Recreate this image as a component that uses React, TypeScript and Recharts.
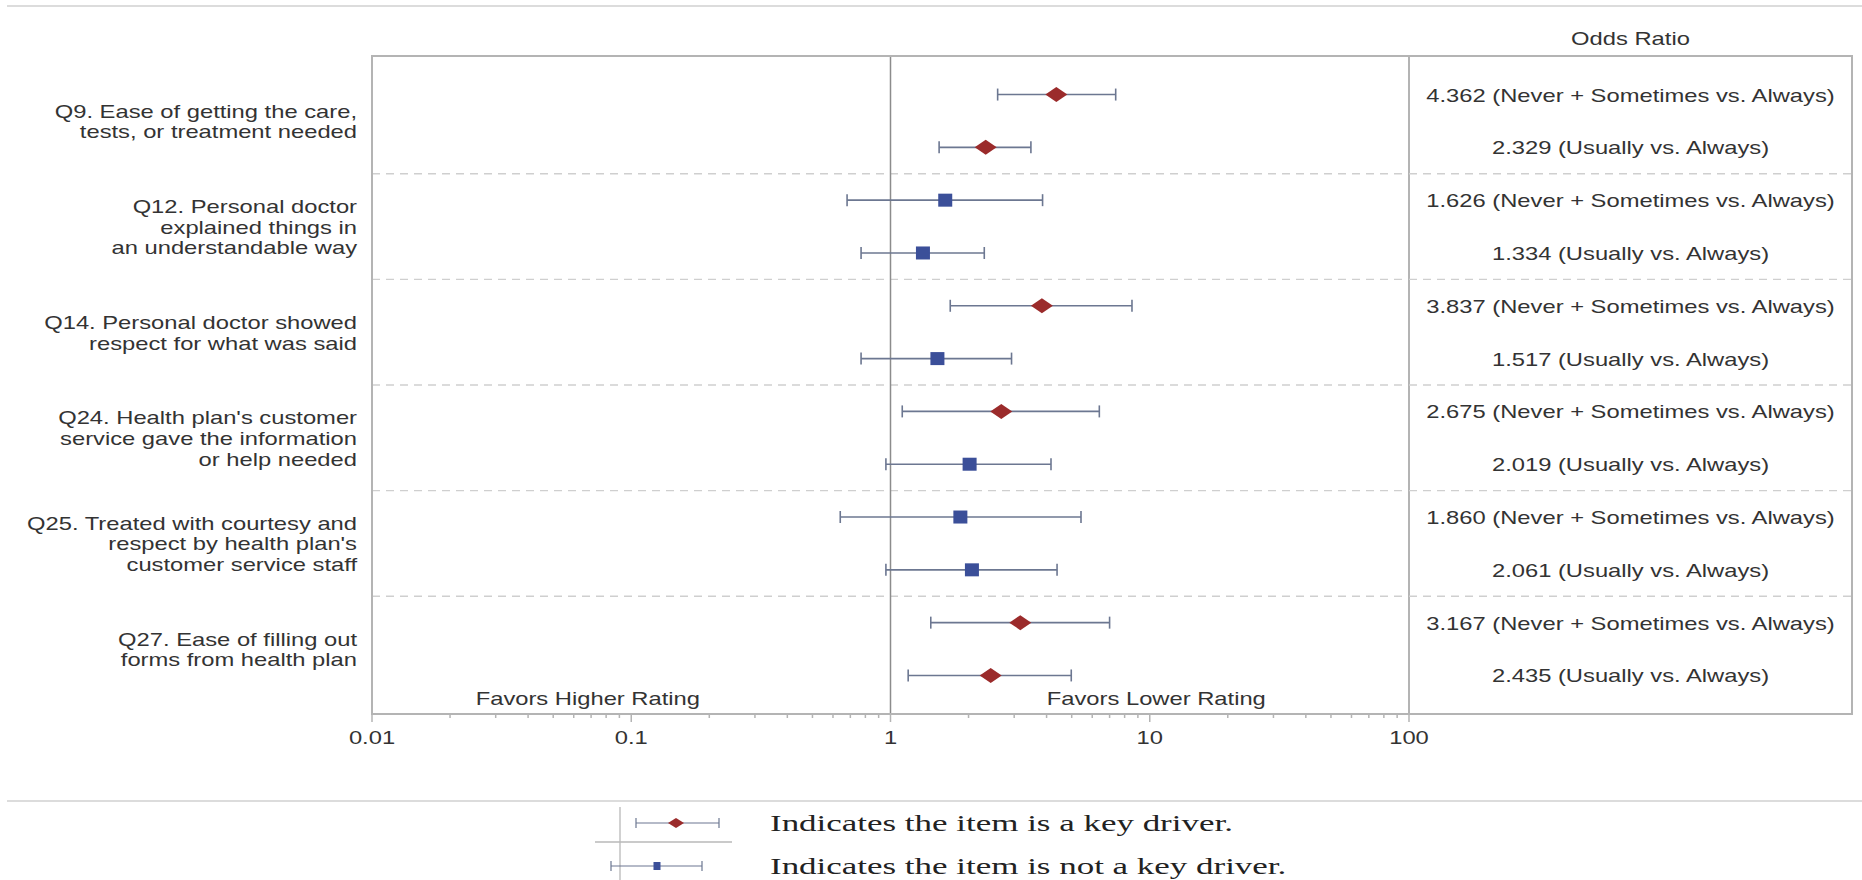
import React from "react";
import {
  ComposedChart,
  Scatter,
  ErrorBar,
  XAxis,
  YAxis,
  ReferenceLine,
  ReferenceDot,
  Legend,
} from "recharts";

// survey items, two comparisons each
const questions = [
  ["Q9. Ease of getting the care,", "tests, or treatment needed"],
  ["Q12. Personal doctor", "explained things in", "an understandable way"],
  ["Q14. Personal doctor showed", "respect for what was said"],
  ["Q24. Health plan's customer", "service gave the information", "or help needed"],
  ["Q25. Treated with courtesy and", "respect by health plan's", "customer service staff"],
  ["Q27. Ease of filling out", "forms from health plan"],
];
const comparisons = ["Never + Sometimes vs. Always", "Usually vs. Always"];

const oddsRatios = [4.362, 2.329, 1.626, 1.334, 3.837, 1.517, 2.675, 2.019, 1.86, 2.061, 3.167, 2.435];
const lowerCI = [2.59, 1.54, 0.68, 0.77, 1.7, 0.77, 1.11, 0.96, 0.64, 0.96, 1.43, 1.17];
const upperCI = [7.39, 3.48, 3.86, 2.3, 8.54, 2.93, 6.39, 4.16, 5.43, 4.39, 7.0, 4.98];
const keyDriver = [true, true, false, false, true, false, true, false, false, false, true, true];

const xTicks = [0.01, 0.1, 1, 10, 100];
const legendLabels = ["Indicates the item is a key driver.", "Indicates the item is not a key driver."];
const annotations = [
  { text: "Favors Higher Rating", x: 0.068, row: 11.43 },
  { text: "Favors Lower Rating", x: 10.6, row: 11.43 },
];

const rows = oddsRatios.map((or, i) => ({
  row: i,
  or,
  err: [or - lowerCI[i], upperCI[i] - or],
  key: keyDriver[i],
  text: `${or.toFixed(3)} (${comparisons[i % 2]})`,
}));
const keyRows = rows.filter((r) => r.key);
const otherRows = rows.filter((r) => !r.key);

const minorTicks = xTicks
  .slice(0, -1)
  .flatMap((d) => [2, 3, 4, 5, 6, 7, 8, 9].map((k) => parseFloat((d * k).toPrecision(3))));
const groupTicks = questions.map((_, g) => g * 2 + 0.5);
const boundaryTicks = questions.slice(1).map((_, g) => g * 2 + 1.5);
const rowTicks = [...rows.map((r) => r.row), ...boundaryTicks];

const W = 1862;
const H = 880;
const MARGIN = { top: 56, right: 10, bottom: 126, left: 0 };
const LEFT_W = 372;
const PANEL_W = 443;
const XAXIS_H = 40;
const PAD = 0.73;

const RED = "#9b2b2b";
const BLUE = "#3b4f99";
const BAR = "#6c7791";
const FRAME = "#b4b4b4";
const TEXT = "#333";
const SANS = "'Liberation Sans', Arial, sans-serif";
const SERIF = "'Liberation Serif', 'Times New Roman', serif";

function StretchText({ x, y, anchor = "start", size = 19, sx = 1.25, family = SANS, fill = TEXT, children }: any) {
  return (
    <text
      transform={`translate(${x},${y}) scale(${sx},1)`}
      textAnchor={anchor}
      fontSize={size}
      fontFamily={family}
      fill={fill}
    >
      {children}
    </text>
  );
}

const Diamond = ({ cx, cy }: any) => (
  <polygon points={`${cx - 11},${cy} ${cx},${cy - 7.5} ${cx + 11},${cy} ${cx},${cy + 7.5}`} fill={RED} />
);
const Square = ({ cx, cy }: any) => <rect x={cx - 7} y={cy - 6.5} width={14} height={13} fill={BLUE} />;

const XTick = ({ x, y, payload }: any) => {
  const v = payload.value;
  const major = xTicks.includes(v);
  return (
    <g>
      <line x1={x} x2={x} y1={y} y2={y + (major ? 8 : 4)} stroke={FRAME} strokeWidth={1.5} />
      {major && (
        <StretchText x={x} y={y + 30} anchor="middle">
          {String(v)}
        </StretchText>
      )}
    </g>
  );
};

const LeftTick = ({ x, y, payload }: any) => {
  const lines = questions[Math.round((payload.value - 0.5) / 2)];
  const lh = 20.7;
  const top = y - ((lines.length - 1) * lh) / 2;
  return (
    <g>
      {lines.map((l, i) => (
        <StretchText key={i} x={x - 15} y={top + i * lh + 7} anchor="end">
          {l}
        </StretchText>
      ))}
    </g>
  );
};

const RightTick = ({ x, y, payload }: any) => {
  const v = payload.value;
  if (!Number.isInteger(v)) {
    return <line x1={x} x2={x + PANEL_W} y1={y} y2={y} stroke="#cfcfcf" strokeWidth={1.3} strokeDasharray="8 6" />;
  }
  return (
    <StretchText x={x + PANEL_W / 2} y={y + 7} anchor="middle">
      {rows[v].text}
    </StretchText>
  );
};

const LegendContent = ({ payload }: any) => {
  const items = (payload || []).filter((p: any) => legendLabels.includes(p.value));
  const marks = [
    { y: 33, lo: 636, hi: 719, mid: 676 },
    { y: 76, lo: 611, hi: 702, mid: 657 },
  ];
  return (
    <svg width={W} height={90} style={{ display: "block" }}>
      <line x1={7} x2={W} y1={11} y2={11} stroke="#dcdcdc" strokeWidth={2} />
      <line x1={620} x2={620} y1={17} y2={90} stroke="#b8b8b8" strokeWidth={1.3} />
      <line x1={595} x2={732} y1={52} y2={52} stroke="#b8b8b8" strokeWidth={1.3} />
      {items.map((it: any, i: number) => {
        const m = marks[i];
        return (
          <g key={it.value}>
            <line x1={m.lo} x2={m.hi} y1={m.y} y2={m.y} stroke={BAR} strokeWidth={1.2} />
            <line x1={m.lo} x2={m.lo} y1={m.y - 5} y2={m.y + 5} stroke={BAR} strokeWidth={1.2} />
            <line x1={m.hi} x2={m.hi} y1={m.y - 5} y2={m.y + 5} stroke={BAR} strokeWidth={1.2} />
            {i === 0 ? (
              <polygon
                points={`${m.mid - 8},${m.y} ${m.mid},${m.y - 5} ${m.mid + 8},${m.y} ${m.mid},${m.y + 5}`}
                fill={it.color}
              />
            ) : (
              <rect x={m.mid - 3.5} y={m.y - 4} width={7} height={8} fill={it.color} />
            )}
            <StretchText x={770} y={m.y + 8} size={23} sx={1.52} family={SERIF} fill="#222">
              {it.value}
            </StretchText>
          </g>
        );
      })}
    </svg>
  );
};

const favorsLabel = (text: string) => (p: any) => (
  <StretchText x={p.viewBox.x} y={p.viewBox.y + 7} anchor="middle">
    {text}
  </StretchText>
);

export default function App() {
  const plotLeft = MARGIN.left + LEFT_W;
  const plotTop = MARGIN.top;
  const plotBottom = H - MARGIN.bottom - XAXIS_H;
  const frameRight = W - MARGIN.right;
  return (
    <div style={{ position: "absolute", left: 0, top: 0, width: W, height: H, background: "#fff" }}>
      <ComposedChart width={W} height={H} margin={MARGIN}>
        <XAxis
          dataKey="or"
          type="number"
          scale="log"
          domain={[0.01, 100]}
          allowDataOverflow
          ticks={[...xTicks, ...minorTicks]}
          interval={0}
          height={XAXIS_H}
          tickSize={0}
          tickMargin={0}
          tickLine={false}
          axisLine={{ stroke: FRAME, strokeWidth: 2 }}
          tick={<XTick />}
        />
        <YAxis
          yAxisId="left"
          dataKey="row"
          type="number"
          domain={[-PAD, rows.length - 1 + PAD]}
          reversed
          allowDataOverflow
          ticks={groupTicks}
          interval={0}
          width={LEFT_W}
          tickSize={0}
          tickMargin={0}
          tickLine={false}
          axisLine={{ stroke: FRAME, strokeWidth: 2 }}
          tick={<LeftTick />}
        />
        <YAxis
          yAxisId="right"
          orientation="right"
          dataKey="row"
          type="number"
          domain={[-PAD, rows.length - 1 + PAD]}
          reversed
          allowDataOverflow
          ticks={rowTicks}
          interval={0}
          width={PANEL_W}
          tickSize={0}
          tickMargin={0}
          tickLine={false}
          axisLine={{ stroke: FRAME, strokeWidth: 2 }}
          tick={<RightTick />}
          label={(p: any) => (
            <StretchText x={p.viewBox.x + p.viewBox.width / 2} y={p.viewBox.y - 11} anchor="middle">
              Odds Ratio
            </StretchText>
          )}
        />
        {boundaryTicks.map((b) => (
          <ReferenceLine key={b} yAxisId="left" y={b} stroke="#cfcfcf" strokeWidth={1.3} strokeDasharray="8 6" />
        ))}
        <ReferenceLine yAxisId="left" x={1} stroke="#8c8c8c" strokeWidth={1.5} />
        {annotations.map((a) => (
          <ReferenceDot
            key={a.text}
            yAxisId="left"
            x={a.x}
            y={a.row}
            r={0}
            fill="none"
            stroke="none"
            label={favorsLabel(a.text)}
          />
        ))}
        <Scatter
          yAxisId="left"
          name={legendLabels[0]}
          data={keyRows}
          fill={RED}
          shape={<Diamond />}
          isAnimationActive={false}
        >
          <ErrorBar dataKey="err" direction="x" width={6} stroke={BAR} strokeWidth={1.6} />
        </Scatter>
        <Scatter
          yAxisId="left"
          name={legendLabels[1]}
          data={otherRows}
          fill={BLUE}
          shape={<Square />}
          isAnimationActive={false}
        >
          <ErrorBar dataKey="err" direction="x" width={6} stroke={BAR} strokeWidth={1.6} />
        </Scatter>
        <Scatter
          yAxisId="right"
          data={rows}
          legendType="none"
          shape={() => <g />}
          isAnimationActive={false}
        />
        <Legend
          layout="horizontal"
          verticalAlign="middle"
          align="center"
          wrapperStyle={{ left: 0, top: 790, width: W, height: 90 }}
          content={<LegendContent />}
        />
      </ComposedChart>
      <svg
        width={W}
        height={H}
        style={{ position: "absolute", left: 0, top: 0, pointerEvents: "none" }}
      >
        <line x1={7} x2={W} y1={6} y2={6} stroke="#dcdcdc" strokeWidth={2} />
        <rect
          x={plotLeft}
          y={plotTop}
          width={frameRight - plotLeft}
          height={plotBottom - plotTop}
          fill="none"
          stroke={FRAME}
          strokeWidth={2}
        />
      </svg>
    </div>
  );
}
